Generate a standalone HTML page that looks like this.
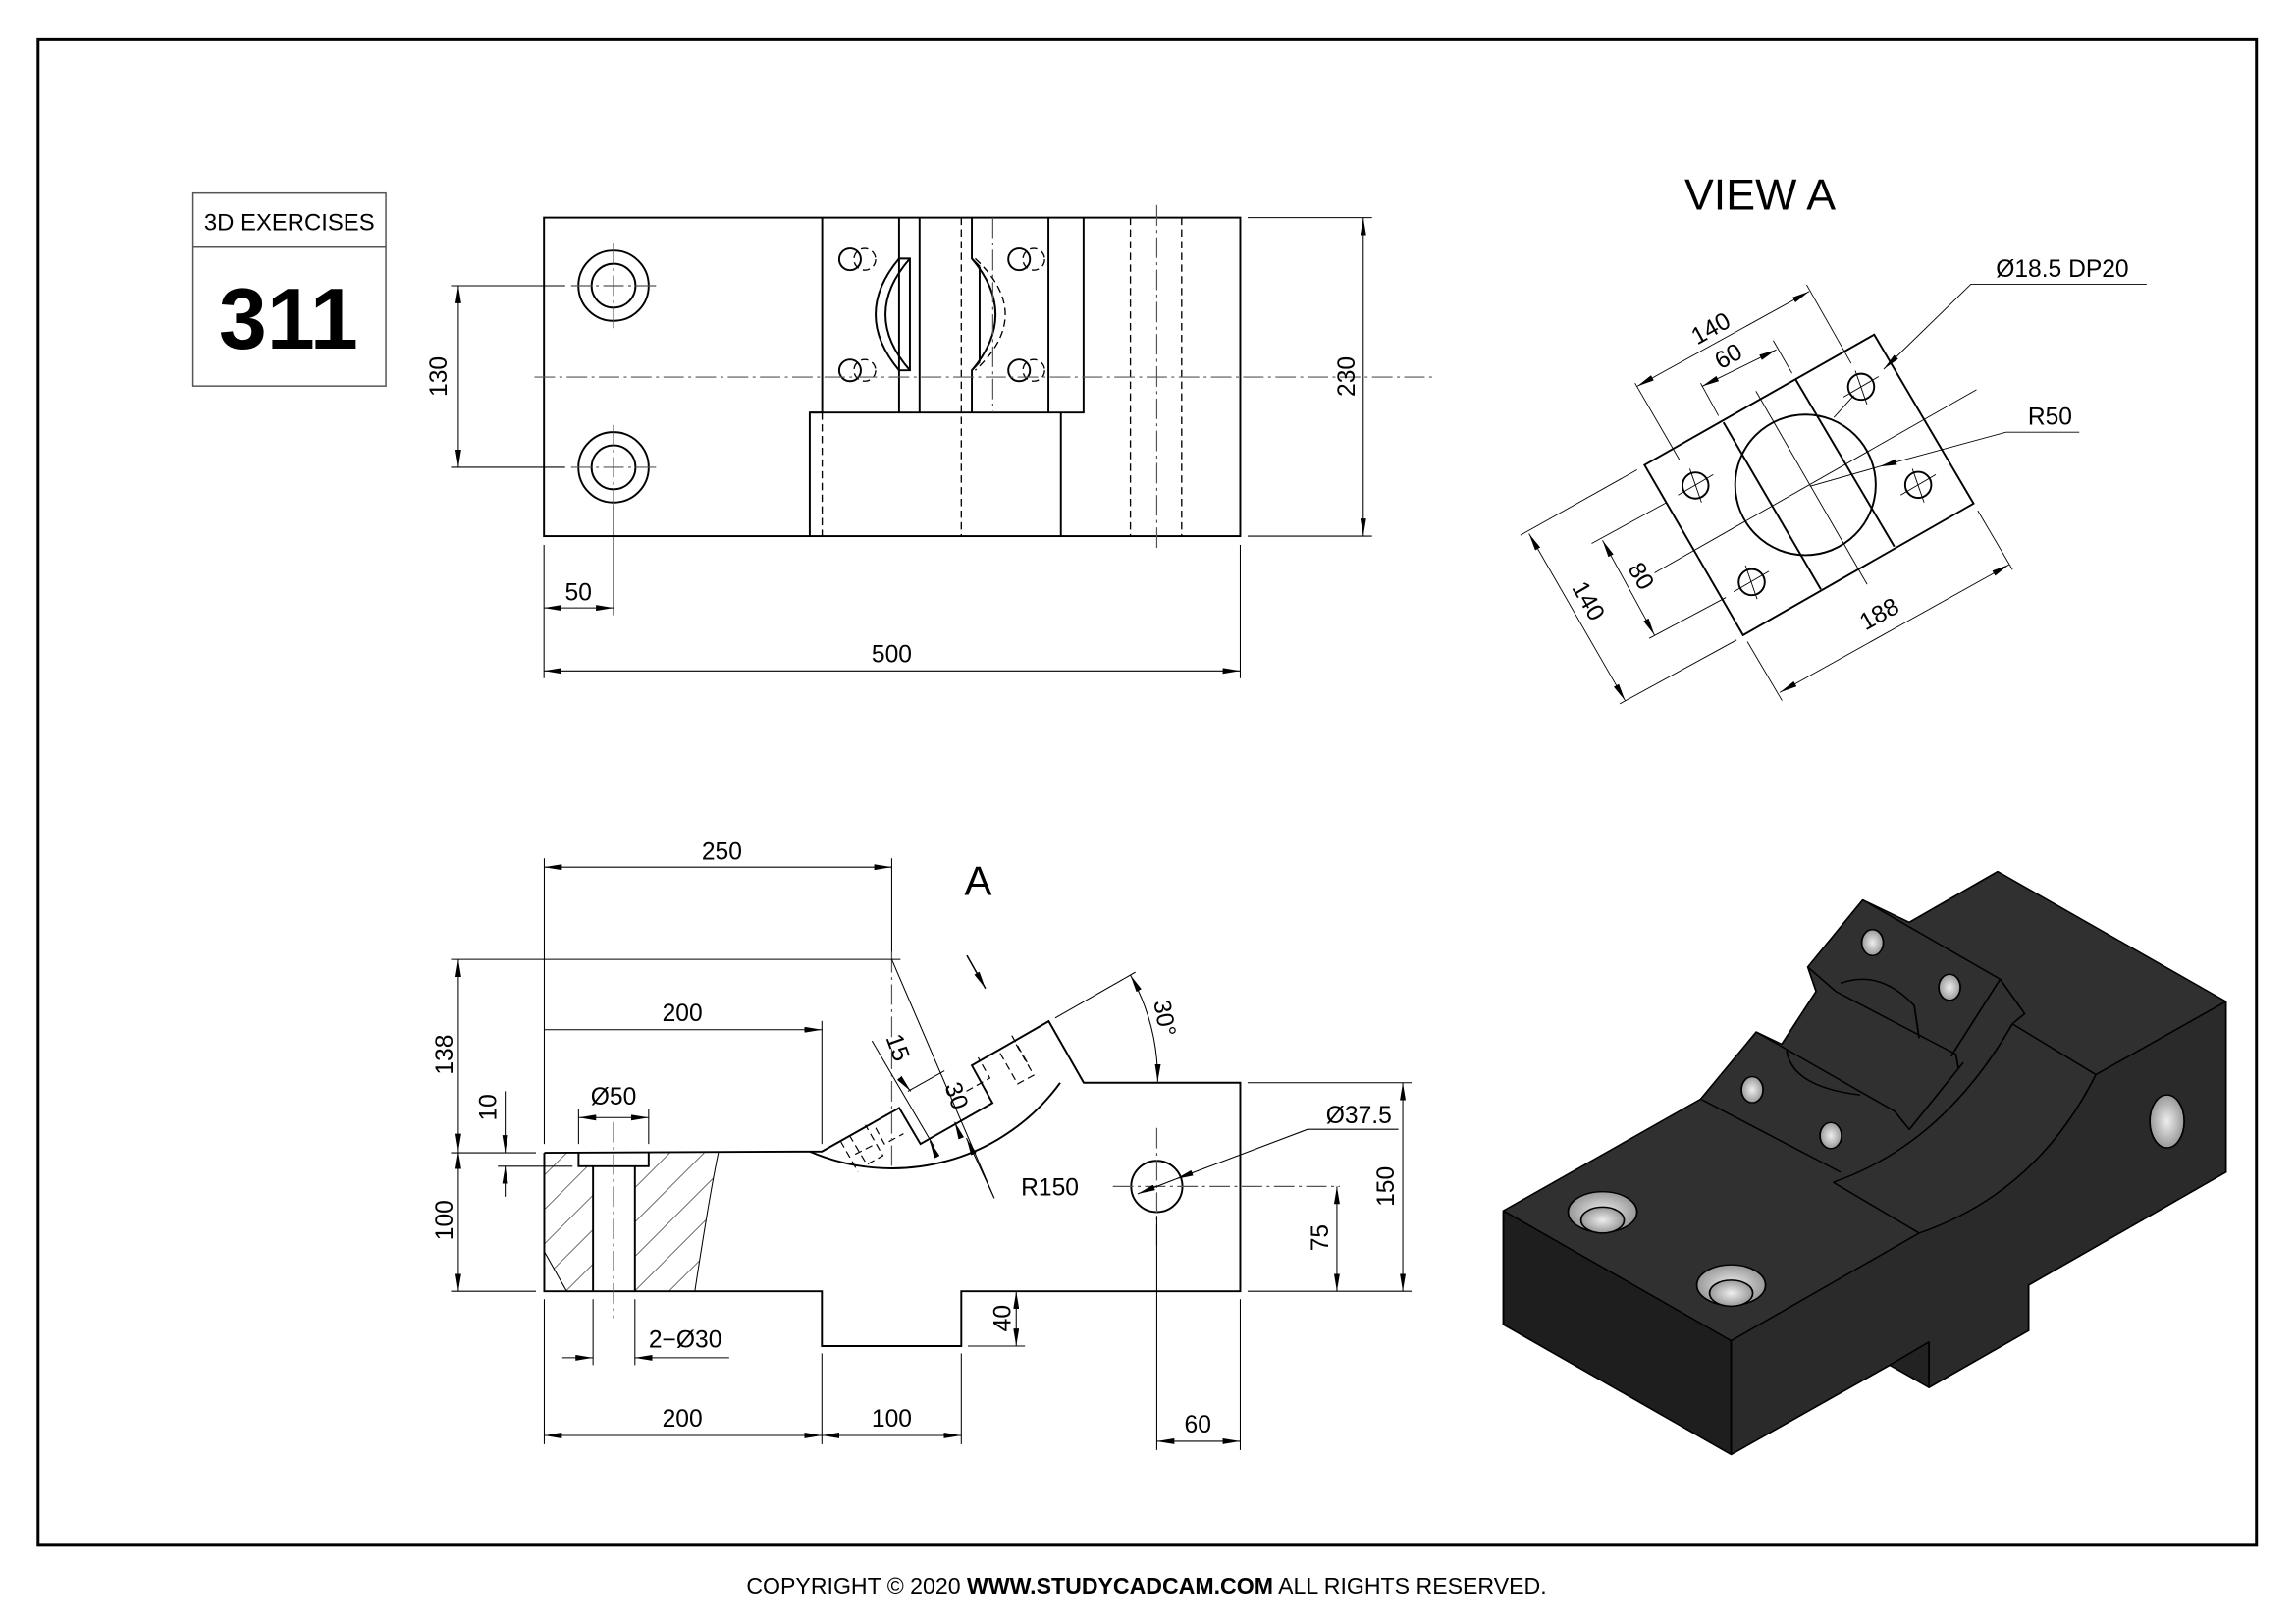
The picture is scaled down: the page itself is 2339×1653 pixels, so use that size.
<!DOCTYPE html>
<html><head><meta charset="utf-8"><style>
html,body{margin:0;padding:0;background:#fff;}
svg{display:block;}
text{font-family:"Liberation Sans",sans-serif;}
</style></head><body>
<svg width="2339" height="1653" viewBox="0 0 1568 1108" xmlns="http://www.w3.org/2000/svg">
<defs>
<marker id="a" viewBox="0 0 12 4" refX="12" refY="2" markerWidth="12" markerHeight="4" markerUnits="userSpaceOnUse" orient="auto-start-reverse"><path d="M0,0 L12,2 L0,4 z" fill="#000"/></marker>
<pattern id="h" patternUnits="userSpaceOnUse" width="16.6" height="16.6" patternTransform="rotate(45)"><line x1="0" y1="0" x2="0" y2="16.6" stroke="#000" stroke-width="0.7"/></pattern>
<radialGradient id="g" cx="0.5" cy="0.5" r="0.6"><stop offset="0" stop-color="#eee"/><stop offset="1" stop-color="#888"/></radialGradient>
</defs>
<rect width="1568" height="1108" fill="#fff"/>
<rect x="26" y="27" width="1515" height="1028" fill="none" stroke="#000" stroke-width="2"/>

<!-- title box -->
<rect x="131.8" y="131.8" width="131.7" height="131.7" fill="none" stroke="#555" stroke-width="1"/>
<line x1="131.8" y1="168.7" x2="263.5" y2="168.7" stroke="#555" stroke-width="1"/>
<text x="197.6" y="157" font-size="16" text-anchor="middle">3D EXERCISES</text>
<text x="197" y="238" font-size="59" font-weight="bold" text-anchor="middle">311</text>

<!-- ================= TOP VIEW ================= -->
<g stroke="#000" fill="none" stroke-width="1.3">
<rect x="371.5" y="148.5" width="475.5" height="217.5"/>
<polyline points="561.5,148.5 561.5,281.6 553,281.6 553,366"/>
<polyline points="553,281.6 740,281.6 740,148.5"/>
<line x1="724.5" y1="281.6" x2="724.5" y2="366"/>
<line x1="614" y1="148.5" x2="614" y2="281.6"/>
<line x1="628" y1="148.5" x2="628" y2="281.6"/>
<line x1="716" y1="148.5" x2="716" y2="281.6"/>
<polyline points="663.7,148.5 663.7,176.5 669,182"/>
<polyline points="663.7,281.6 663.7,252.8 669,247"/>
<line x1="669" y1="182" x2="669" y2="247"/>
<polyline points="614,176.5 621.4,176.5 621.4,252.8 614,252.8"/>
<path d="M614,176.5 Q582,214.6 614,252.8"/>
<path d="M621.4,176.5 Q588,214.6 621.4,252.8"/>
<path d="M663.7,176.5 Q696,214.6 663.7,252.8"/>
<circle cx="580.5" cy="177" r="7.4"/><circle cx="580.5" cy="252.8" r="7.4"/>
<circle cx="696" cy="177" r="7.4"/><circle cx="696" cy="252.8" r="7.4"/>
<circle cx="419" cy="195" r="24"/><circle cx="419" cy="195" r="15"/>
<circle cx="419" cy="319" r="24"/><circle cx="419" cy="319" r="15"/>
</g>
<g stroke="#000" fill="none" stroke-width="0.9" stroke-dasharray="5,3">
<circle cx="590.6" cy="177" r="7.4"/><circle cx="590.6" cy="252.8" r="7.4"/>
<circle cx="706" cy="177" r="7.4"/><circle cx="706" cy="252.8" r="7.4"/>
<path d="M666,176.5 Q707,214.6 666,252.8"/>
<line x1="561.5" y1="281.6" x2="561.5" y2="366"/>
<line x1="656.5" y1="148.5" x2="656.5" y2="366"/>
<line x1="772" y1="148.5" x2="772" y2="366"/>
<line x1="807" y1="148.5" x2="807" y2="366"/>
</g>
<g stroke="#555" fill="none" stroke-width="0.8" stroke-dasharray="14,3,2,3">
<line x1="365" y1="257.4" x2="980" y2="257.4"/>
<line x1="790" y1="140" x2="790" y2="376"/>
<line x1="678" y1="148.5" x2="678" y2="281.6"/>
<line x1="390" y1="195" x2="448" y2="195"/><line x1="419" y1="166" x2="419" y2="224"/>
<line x1="390" y1="319" x2="448" y2="319"/><line x1="419" y1="290" x2="419" y2="348"/>
</g>
<g stroke="#000" stroke-width="0.7" fill="none">
<line x1="308" y1="195" x2="386" y2="195"/><line x1="308" y1="319" x2="386" y2="319"/>
<line x1="313" y1="195" x2="313" y2="319" marker-start="url(#a)" marker-end="url(#a)"/>
<line x1="852" y1="148.5" x2="937" y2="148.5"/><line x1="852" y1="366" x2="937" y2="366"/>
<line x1="931" y1="148.5" x2="931" y2="366" marker-start="url(#a)" marker-end="url(#a)"/>
<line x1="371.5" y1="372" x2="371.5" y2="463"/><line x1="419" y1="345" x2="419" y2="420"/><line x1="847" y1="372" x2="847" y2="463"/>
<line x1="371.5" y1="415" x2="419" y2="415" marker-start="url(#a)" marker-end="url(#a)"/>
<line x1="371.5" y1="458" x2="847" y2="458" marker-start="url(#a)" marker-end="url(#a)"/>
</g>
<g font-size="16.5">
<text x="305" y="257" text-anchor="middle" transform="rotate(-90 305 257)">130</text>
<text x="925" y="257" text-anchor="middle" transform="rotate(-90 925 257)">230</text>
<text x="395" y="410" text-anchor="middle">50</text>
<text x="609" y="452" text-anchor="middle">500</text>
</g>

<!-- ================= VIEW A ================= -->
<text x="1202" y="143" font-size="30" text-anchor="middle">VIEW A</text>
<g stroke="#000" fill="none" stroke-width="1.3">
<polygon points="1279.9,228.4 1347.8,343.7 1190.4,433.6 1123.1,317.4"/>
<line x1="1177" y1="288.3" x2="1243.5" y2="402.3"/>
<line x1="1226.4" y1="259.2" x2="1293.7" y2="373.2"/>
<circle cx="1233" cy="331" r="48"/>
<circle cx="1157.9" cy="331.4" r="8.9"/><circle cx="1196.3" cy="397.4" r="8.9"/>
<circle cx="1271" cy="264" r="8.9"/><circle cx="1310" cy="331" r="8.9"/>
</g>
<g stroke="#000" stroke-width="0.6" fill="none">
<line x1="1199.2" y1="267" x2="1275.1" y2="398.9"/>
<line x1="1129.9" y1="391.1" x2="1349.8" y2="266"/>
<line x1="1146" y1="338" x2="1170" y2="324"/><line x1="1154" y1="320" x2="1162" y2="343"/>
<line x1="1184" y1="404" x2="1208" y2="390"/><line x1="1192" y1="386" x2="1200" y2="409"/>
<line x1="1259" y1="271" x2="1283" y2="257"/><line x1="1267" y1="253" x2="1275" y2="276"/>
<line x1="1298" y1="338" x2="1322" y2="324"/><line x1="1306" y1="320" x2="1314" y2="343"/>
<line x1="1116.6" y1="261.5" x2="1147" y2="314"/><line x1="1233.8" y1="194.4" x2="1264.2" y2="248"/>
<line x1="1118" y1="263.7" x2="1235.6" y2="198.9" marker-start="url(#a)" marker-end="url(#a)"/>
<line x1="1161.4" y1="261.5" x2="1173.6" y2="283.8"/><line x1="1211" y1="232.4" x2="1223.8" y2="254.8"/>
<line x1="1162.3" y1="263.7" x2="1213.1" y2="238.7" marker-start="url(#a)" marker-end="url(#a)"/>
<line x1="1038.3" y1="365.4" x2="1118" y2="320.7"/><line x1="1106.2" y1="480.5" x2="1186" y2="436.9"/>
<line x1="1044.2" y1="364.3" x2="1109.8" y2="478.3" marker-start="url(#a)" marker-end="url(#a)"/>
<line x1="1087" y1="371" x2="1138" y2="343.1"/><line x1="1126.3" y1="435.8" x2="1178.6" y2="407.9"/>
<line x1="1094.4" y1="368.8" x2="1129.9" y2="433.6" marker-start="url(#a)" marker-end="url(#a)"/>
<line x1="1193.3" y1="438" x2="1217" y2="478.3"/><line x1="1350.7" y1="348.6" x2="1374.4" y2="388.9"/>
<line x1="1215.5" y1="472.7" x2="1372" y2="385.5" marker-start="url(#a)" marker-end="url(#a)"/>
<polyline points="1466,194 1346,194 1286.4,252" marker-end="url(#a)"/>
<line x1="1266" y1="270" x2="1252.4" y2="285"/>
<polyline points="1420,295 1370,295 1283.4,318.5" marker-end="url(#a)"/>
<line x1="1283.4" y1="318.5" x2="1236" y2="332"/>
</g>
<g font-size="16.5">
<text x="1171" y="229" text-anchor="middle" transform="rotate(-29 1171 229)">140</text>
<text x="1183" y="248" text-anchor="middle" transform="rotate(-29 1183 248)">60</text>
<text x="1080" y="413" text-anchor="middle" transform="rotate(60 1080 413)">140</text>
<text x="1116" y="396" text-anchor="middle" transform="rotate(60 1116 396)">80</text>
<text x="1286" y="424" text-anchor="middle" transform="rotate(-29 1286 424)">188</text>
<text x="1363" y="189">Ø18.5 DP20</text>
<text x="1400" y="290" text-anchor="middle">R50</text>
</g>

<!-- ================= FRONT VIEW ================= -->
<path d="M371.7,787 L395.1,787 L395.1,796.2 L405,796.2 L405,881.6 L387,881.6 L372,855 Z M433.6,796.2 L443,796.2 L443,787 L490.6,787 Q485,813 474.5,881.6 L433.6,881.6 Z" fill="url(#h)" stroke="none"/>
<g stroke="#000" fill="none" stroke-width="1.3">
<polyline points="371.7,787 561.3,786.1 614.1,756.4 628.6,781 677.8,753 663.7,727.4 716.2,697.2 740.1,739.2 847,739.2 847,881.6 656.5,881.6 656.5,919 561.3,919 561.3,881.6 371.7,881.6 371.7,787"/>
<path d="M553,786.1 A142 142 0 0 0 724,739.2"/>
<polyline points="395.1,787 395.1,796.2 443,796.2 443,787"/>
<line x1="405" y1="796.2" x2="405" y2="881.6"/>
<line x1="433.6" y1="796.2" x2="433.6" y2="881.6"/>
<circle cx="790" cy="810" r="17.5"/>
</g>
<g stroke="#000" fill="none" stroke-width="0.7">
<path d="M490.6,787 Q485,813 474.5,881.6"/>
<line x1="372" y1="855" x2="387" y2="881.6"/>
</g>
<g stroke="#000" fill="none" stroke-width="0.8" stroke-dasharray="5,3">
<polyline points="580,775 592,795 603,789 591,768"/>
<polyline points="584,788 596,782"/><polyline points="574,779 586,800"/>
<polyline points="683,719 695,740 706,734 694,713"/>
<polyline points="660,745 676,736 668,722"/><polyline points="691,707 703,728"/>
<polyline points="598,770 604,781 617,774"/>
</g>
<g stroke="#555" fill="none" stroke-width="0.8" stroke-dasharray="14,3,2,3">
<line x1="419" y1="766" x2="419" y2="900"/>
<line x1="609" y1="650" x2="609" y2="797"/>
<line x1="760" y1="810" x2="915" y2="810"/>
<line x1="790" y1="770" x2="790" y2="850"/>
</g>
<g stroke="#000" stroke-width="0.7" fill="none">
<line x1="371.7" y1="586" x2="371.7" y2="781"/><line x1="609" y1="586" x2="609" y2="650"/>
<line x1="371.7" y1="592" x2="609" y2="592" marker-start="url(#a)" marker-end="url(#a)"/>
<line x1="308" y1="655" x2="615" y2="655"/>
<line x1="313" y1="655" x2="313" y2="786" marker-start="url(#a)" marker-end="url(#a)"/>
<line x1="313" y1="786" x2="313" y2="881.6" marker-start="url(#a)" marker-end="url(#a)"/>
<line x1="308" y1="787" x2="366" y2="787"/><line x1="308" y1="881.6" x2="366" y2="881.6"/>
<line x1="561.3" y1="697" x2="561.3" y2="781"/>
<line x1="371.7" y1="703" x2="561.3" y2="703" marker-end="url(#a)"/>
<line x1="340" y1="796.2" x2="391" y2="796.2"/>
<line x1="345" y1="745" x2="345" y2="787" marker-end="url(#a)"/>
<line x1="345" y1="817" x2="345" y2="796.2" marker-end="url(#a)"/>
<line x1="395.1" y1="757" x2="395.1" y2="781"/><line x1="443" y1="757" x2="443" y2="781"/>
<line x1="395.1" y1="763" x2="443" y2="763" marker-start="url(#a)" marker-end="url(#a)"/>
<line x1="405" y1="887" x2="405" y2="932"/><line x1="433.6" y1="887" x2="433.6" y2="932"/>
<line x1="384" y1="927" x2="405" y2="927" marker-end="url(#a)"/>
<line x1="498" y1="927" x2="433.6" y2="927" marker-end="url(#a)"/>
<line x1="371.7" y1="887" x2="371.7" y2="986"/><line x1="561.3" y1="924" x2="561.3" y2="986"/><line x1="656.5" y1="924" x2="656.5" y2="986"/>
<line x1="371.7" y1="980" x2="561.3" y2="980" marker-start="url(#a)" marker-end="url(#a)"/>
<line x1="561.3" y1="980" x2="656.5" y2="980" marker-start="url(#a)" marker-end="url(#a)"/>
<line x1="661" y1="919" x2="700" y2="919"/>
<line x1="694" y1="881.6" x2="694" y2="919" marker-start="url(#a)" marker-end="url(#a)"/>
<line x1="790" y1="830" x2="790" y2="990"/><line x1="847" y1="887" x2="847" y2="990"/>
<line x1="790" y1="984" x2="847" y2="984" marker-start="url(#a)" marker-end="url(#a)"/>
<line x1="852" y1="739.2" x2="964" y2="739.2"/><line x1="852" y1="881.6" x2="964" y2="881.6"/>
<line x1="913" y1="810" x2="913" y2="881.6" marker-start="url(#a)" marker-end="url(#a)"/>
<line x1="958" y1="739.2" x2="958" y2="881.6" marker-start="url(#a)" marker-end="url(#a)"/>
<polyline points="955,771 893,771 803,805" marker-end="url(#a)"/>
<line x1="803" y1="805" x2="777" y2="815" marker-end="url(#a)"/>
<line x1="609" y1="655" x2="679" y2="818"/>
<line x1="652" y1="766" x2="656" y2="776" marker-start="url(#a)"/>
<line x1="679" y1="818" x2="660" y2="777" marker-end="url(#a)"/>
<line x1="595.5" y1="710.6" x2="638" y2="783"/>
<line x1="616" y1="738" x2="622" y2="745" marker-end="url(#a)"/>
<line x1="640" y1="790" x2="635" y2="779" marker-end="url(#a)"/>
<line x1="620" y1="745" x2="645" y2="731"/>
<line x1="720.6" y1="695" x2="775.4" y2="663.7"/>
<path d="M772,665.7 Q791,700 790.6,738.5" marker-start="url(#a)" marker-end="url(#a)"/>
<line x1="660.3" y1="652.3" x2="673" y2="674.8" stroke-width="1" marker-end="url(#a)"/>
</g>
<g font-size="16.5">
<text x="493" y="587" text-anchor="middle">250</text>
<text x="466" y="697" text-anchor="middle">200</text>
<text x="309" y="720" text-anchor="middle" transform="rotate(-90 309 720)">138</text>
<text x="339" y="756" text-anchor="middle" transform="rotate(-90 339 756)">10</text>
<text x="309" y="833" text-anchor="middle" transform="rotate(-90 309 833)">100</text>
<text x="419" y="754" text-anchor="middle">Ø50</text>
<text x="468" y="920" text-anchor="middle">2−Ø30</text>
<text x="466" y="974" text-anchor="middle">200</text>
<text x="609" y="974" text-anchor="middle">100</text>
<text x="690" y="900" text-anchor="middle" transform="rotate(-90 690 900)">40</text>
<text x="818" y="978" text-anchor="middle">60</text>
<text x="907" y="845" text-anchor="middle" transform="rotate(-90 907 845)">75</text>
<text x="952" y="810" text-anchor="middle" transform="rotate(-90 952 810)">150</text>
<text x="928" y="767" text-anchor="middle">Ø37.5</text>
<text x="717" y="816" text-anchor="middle">R150</text>
<text x="608" y="717" text-anchor="middle" transform="rotate(70 608 717)">15</text>
<text x="648" y="750" text-anchor="middle" transform="rotate(70 648 750)">30</text>
<text x="790" y="696" text-anchor="middle" transform="rotate(80 790 696)">30°</text>
</g>
<text x="668" y="611" font-size="28" text-anchor="middle">A</text>

<!-- ================= 3D VIEW ================= -->
<g transform="translate(1005.6,570) scale(0.3352,0.2774)" stroke="#000" stroke-width="3.5" stroke-linejoin="round">
<path d="M63,925 L465,650 L578,485 L630,515 L700,385 L683,325 L795,160 L890,215 L1070,90 L1535,410 L1535,830 L1133,1108 L1133,1220 L930,1360 L930,1248 L850,1305 L527,1525 L63,1205 Z" fill="#303030"/>
<path d="M63,925 L527,1245 L527,1525 L63,1205 Z" fill="#1e1e1e"/>
<path d="M527,1245 L910,980 Q1150,880 1270,590 L1535,410 L1535,830 L1133,1108 L1133,1220 L930,1360 L930,1248 L850,1305 L527,1525 Z" fill="#2a2a2a"/>
<path d="M850,1305 L930,1248 L930,1360 Z" fill="#222"/>
<g fill="none">
<path d="M735,855 Q960,760 1100,465"/>
<path d="M735,855 L910,980"/>
<path d="M465,650 L750,830"/>
<path d="M1270,590 L1100,465"/>
<path d="M890,215 L1070,90"/>
<path d="M578,485 L860,680 L890,725 L1000,560"/>
<path d="M683,325 L740,385 L985,540 L990,575"/>
<path d="M795,160 L1075,355 L1125,440 L1100,465"/>
<path d="M1075,355 L975,545"/>
<path d="M750,365 Q830,330 900,420 L910,500"/>
<path d="M640,530 Q650,620 790,640"/>
</g>
<ellipse cx="265" cy="928" rx="70" ry="50" fill="url(#g)"/>
<ellipse cx="265" cy="948" rx="44" ry="32" fill="url(#g)"/>
<ellipse cx="527" cy="1108" rx="70" ry="50" fill="url(#g)"/>
<ellipse cx="527" cy="1128" rx="44" ry="32" fill="url(#g)"/>
<ellipse cx="815" cy="265" rx="22" ry="32" fill="url(#g)"/>
<ellipse cx="972" cy="375" rx="22" ry="32" fill="url(#g)"/>
<ellipse cx="570" cy="627" rx="22" ry="32" fill="url(#g)"/>
<ellipse cx="730" cy="740" rx="22" ry="32" fill="url(#g)"/>
<ellipse cx="1415" cy="705" rx="35" ry="65" fill="url(#g)"/>
</g>

<text x="783" y="1088" font-size="15.5" text-anchor="middle">COPYRIGHT © 2020 <tspan font-weight="bold">WWW.STUDYCADCAM.COM</tspan> ALL RIGHTS RESERVED.</text>
</svg>
</body></html>
